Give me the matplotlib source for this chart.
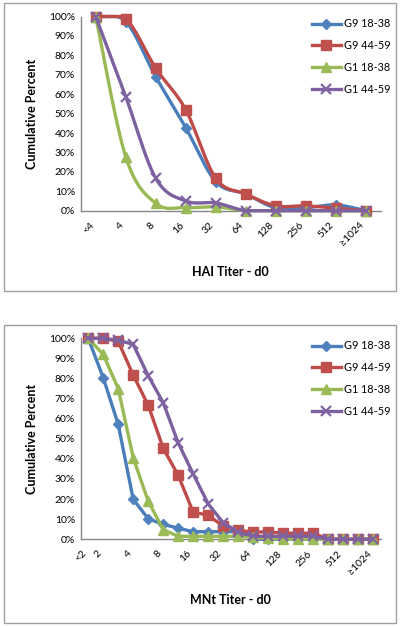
import numpy as np
import matplotlib
matplotlib.use("Agg")
import matplotlib.pyplot as plt
from matplotlib.lines import Line2D
from matplotlib.patches import Rectangle

plt.rcParams['font.family'] = ['Lato', 'DejaVu Sans']

# ---- data (percent) ----
series_names = ['G9 18-38', 'G9 44-59', 'G1 18-38', 'G1 44-59']

hai_cats = ['<4', '4', '8', '16', '32', '64', '128', '256', '512', '≥1024']
hai_g9_18 = [100, 97.4, 69, 42.8, 15, 8.6, 1.5, 1.5, 3, 0]
hai_g9_44 = [100, 98.8, 73.4, 52, 16.7, 8.6, 2.5, 2.5, 1.3, 0]
hai_g1_18 = [100, 27.8, 3.8, 1.6, 2, 0, 0, 0, 0, 0]
hai_g1_44 = [100, 58.8, 16.7, 5, 4, 0, 0, 0, 0, 0]

mnt_cats = ['<2', '2', '', '4', '', '8', '', '16', '', '32', '', '64', '',
            '128', '', '256', '', '512', '', '≥1024']
mnt_g9_18 = [100, 80.4, 57.2, 19.9, 10.2, 7.5, 5.5, 3.8, 3.8, 3.8,
             3.8, 0, 0, 0, 0, 0, 0, 0, 0, 0]
mnt_g9_44 = [100, 100, 98.5, 81.7, 66.7, 45.3, 31.8, 13.5, 12, 6.5,
             4.5, 3.5, 3.8, 3, 3, 3, 0, 0, 0, 0]
mnt_g1_18 = [100, 92, 75, 40.6, 19, 4.8, 1.5, 1.5, 1.5, 1.5,
             1.5, 1, 0.5, 0, 0, 0, 0, 0, 0, 0]
mnt_g1_44 = [100, 100, 99, 97, 81.4, 68, 48, 32.5, 17.6, 8.3,
             3.5, 1.5, 1.5, 1.5, 1.5, 1.5, 0, 0, 0, 0]

# ---- styles ----
line_cols = ['#4a7ebb', '#be4b48', '#98b954', '#7d60a0']
mark_cols = ['#4f81bd', '#c0504d', '#9bbb59', '#8064a2']
markers = ['D', 's', '^', 'x']
msizes = [5, 7, 6.5, 6.5]


def smooth(y, n=24):
    # excel-like smoothed line (catmull-rom through every point)
    p = np.column_stack([np.arange(len(y)), np.asarray(y, float)])
    xs, ys = [], []
    t = np.linspace(0, 1, n)[:, None]
    for i in range(len(p) - 1):
        p0 = p[i - 1] if i > 0 else p[i]
        p1, p2 = p[i], p[i + 1]
        p3 = p[i + 2] if i + 2 < len(p) else p[i + 1]
        c1 = p1 + (p2 - p0) / 6
        c2 = p2 - (p3 - p1) / 6
        b = ((1 - t) ** 3) * p1 + 3 * ((1 - t) ** 2) * t * c1 \
            + 3 * (1 - t) * t ** 2 * c2 + t ** 3 * p2
        xs.append(b[:, 0]); ys.append(b[:, 1])
    return np.concatenate(xs), np.clip(np.concatenate(ys), 0, 100)


def draw(ax, cats, data, xlabel, leg_top, smoothed):
    for k, y in enumerate(data):
        if smoothed:
            sx, sy = smooth(y)
        else:
            sx, sy = np.arange(len(y)), y
        ax.plot(sx, sy, color=line_cols[k], lw=2.4, solid_capstyle='round',
                solid_joinstyle='round', zorder=2 + k, clip_on=False)
        mk = markers[k]
        if mk == 'x':
            ax.plot(range(len(y)), y, ls='none', marker='x', ms=msizes[k],
                    mew=1.6, color=mark_cols[k], zorder=2 + k, clip_on=False)
        else:
            ax.plot(range(len(y)), y, ls='none', marker=mk, ms=msizes[k],
                    mfc=mark_cols[k], mec=mark_cols[k], zorder=2 + k,
                    clip_on=False)
    ax.set_xlim(-0.5, len(cats) - 0.5)
    ax.set_ylim(0, 100)
    ax.set_yticks(np.arange(0, 101, 10))
    ax.set_yticklabels(['%d%%' % v for v in range(0, 101, 10)], fontsize=7.5)
    ax.set_xticks(range(len(cats)))
    ax.set_xticklabels(cats, rotation=45, ha='right', va='top', fontsize=7.5)
    ax.tick_params(length=0, pad=4)
    ax.tick_params(axis='x', pad=7)
    for s in ['top', 'right']:
        ax.spines[s].set_visible(False)
    for s in ['left', 'bottom']:
        ax.spines[s].set_color('#868686')
        ax.spines[s].set_linewidth(1.0)
    ax.set_xlabel(xlabel, fontsize=9, fontweight='bold', labelpad=13)
    ax.set_ylabel('Cumulative Percent', fontsize=9, fontweight='bold',
                  labelpad=8)

    handles = []
    for k in range(4):
        if markers[k] == 'x':
            h = Line2D([], [], color=line_cols[k], lw=2.4, marker='x',
                       ms=msizes[k], mew=1.6, mec=mark_cols[k])
        else:
            h = Line2D([], [], color=line_cols[k], lw=2.4, marker=markers[k],
                       ms=msizes[k], mfc=mark_cols[k], mec=mark_cols[k])
        handles.append(h)
    fig.legend(handles, series_names, loc='upper left',
               bbox_to_anchor=(308 / 400, leg_top), frameon=False,
               fontsize=7.8, numpoints=1, handlelength=2.6,
               handletextpad=0.3, labelspacing=1.0, borderaxespad=0)


fig = plt.figure(figsize=(4, 6.26), dpi=100)

# panel frames
for y0, y1 in [(3, 291), (325, 623)]:
    fig.patches.append(Rectangle((4 / 400, 1 - y1 / 626), 392 / 400,
                                 (y1 - y0) / 626, transform=fig.transFigure,
                                 fill=False, ec='#a0a0a0', lw=1.0))

ax1 = fig.add_axes([80.7 / 400, 1 - 210.7 / 626, 300 / 400,
                    (210.7 - 16.5) / 626])
ax2 = fig.add_axes([80.7 / 400, 1 - 539.3 / 626, 300 / 400,
                    (539.3 - 338.3) / 626])

draw(ax1, hai_cats, [hai_g9_18, hai_g9_44, hai_g1_18, hai_g1_44],
     'HAI Titer - d0', 1 - 14 / 626, True)
draw(ax2, mnt_cats, [mnt_g9_18, mnt_g9_44, mnt_g1_18, mnt_g1_44],
     'MNt Titer - d0', 1 - 336 / 626, False)

fig.savefig('out.png', dpi=100)
